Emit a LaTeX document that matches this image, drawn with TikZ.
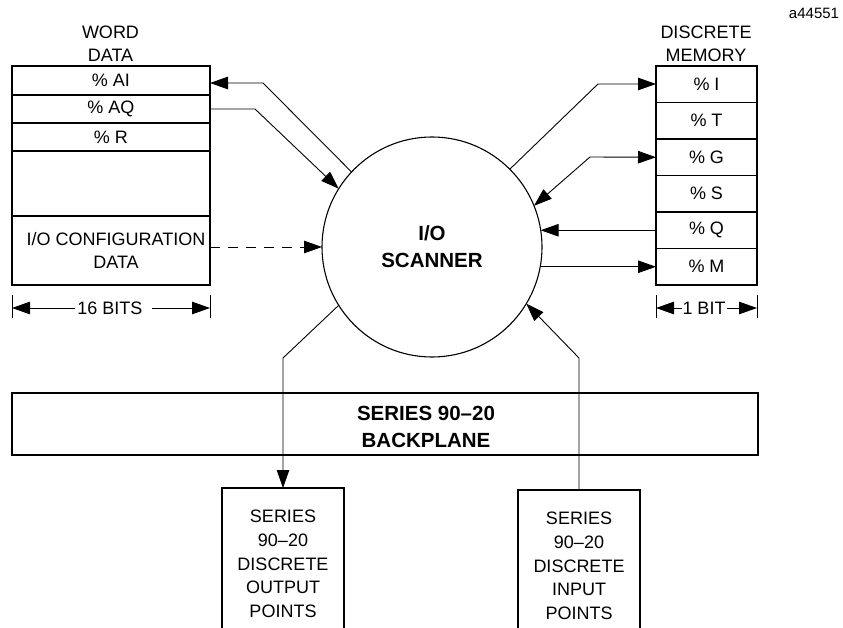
\documentclass[tikz,border=0pt]{standalone}
\usepackage{fontspec}
\setmainfont{Liberation Sans}
\usetikzlibrary{arrows.meta}
\begin{document}
\begin{tikzpicture}[x=1pt,y=-1pt,
  every node/.style={font=\fontsize{18}{23}\selectfont, inner sep=0pt, outer sep=0pt},
  box/.style={draw, line width=1.1pt, rectangle},
  wcell/.style={box, minimum width=198pt, anchor=north west},
  dcell/.style={box, minimum width=101pt, minimum height=36.5pt, anchor=north west},
  boldtxt/.style={font=\bfseries\fontsize{20.5}{27}\selectfont, align=center},
  tip/.style={Triangle[length=18pt,width=12.5pt]},
  conn/.style={line width=0.9pt, -{Triangle[length=18pt,width=12.5pt]}},
  conn2/.style={line width=0.9pt, {Triangle[length=18pt,width=12.5pt]}-{Triangle[length=18pt,width=12.5pt]}},
  tick/.style={line width=0.8pt},
  iobox/.style={anchor=north west, minimum width=122pt, minimum height=152pt, align=center, font=\fontsize{18}{23.7}\selectfont}
]
\useasboundingbox (0,0) rectangle (843,628);
\clip (0,0) rectangle (843,628);

% tag
\node[font=\fontsize{15}{18}\selectfont] (tag) at (814,13) {a44551};

% word data
\node[align=center] (wdlabel) at (110.5,43.5) {WORD\\DATA};
\node[wcell, minimum height=29pt] (ai) at (12,66) {\% AI};
\node[wcell, minimum height=28pt] (aq) at (12,95) {\% AQ};
\node[wcell, minimum height=28pt] (r) at (12,123) {\% R};
\node[wcell, minimum height=65pt] (blank) at (12,151) {};
\node[wcell, minimum height=69pt, align=center] (cfg) at (12,216) {\hspace*{10pt}I/O CONFIGURATION\\\hspace*{10pt}DATA};

% 16 bits
\coordinate (t1a) at (12,295); \coordinate (t1b) at (12,318);
\coordinate (t2a) at (210,295); \coordinate (t2b) at (210,318);
\draw[tick] (t1a) -- (t1b);
\draw[tick] (t2a) -- (t2b);
\node (bits) at (110,308) {16 BITS};
\coordinate (l16) at (12,308); \coordinate (l16s) at (75,308);
\coordinate (r16) at (210,308); \coordinate (r16s) at (152,308);
\draw[conn] (l16s) -- (l16);
\draw[conn] (r16s) -- (r16);

% discrete memory
\node[align=center] (dmlabel) at (706,43.5) {DISCRETE\\MEMORY};
\node[dcell] (i) at (656,66) {\% I};
\node[dcell] (t) at (656,102.5) {\% T};
\node[dcell] (g) at (656,139) {\% G};
\node[dcell] (s) at (656,175.5) {\% S};
\node[dcell] (q) at (656,212) {\% Q};
\node[dcell] (m) at (656,248.5) {\% M};

% 1 bit
\coordinate (t3a) at (656,295); \coordinate (t3b) at (656,318);
\coordinate (t4a) at (757,295); \coordinate (t4b) at (757,318);
\draw[tick] (t3a) -- (t3b);
\draw[tick] (t4a) -- (t4b);
\node (bit1) at (704,308) {1 BIT};
\coordinate (l1) at (656,308); \coordinate (l1s) at (682,308);
\coordinate (r1) at (757,308); \coordinate (r1s) at (727,308);
\draw[conn] (l1s) -- (l1);
\draw[conn] (r1s) -- (r1);

% scanner
\node[circle, draw, line width=1.1pt, minimum size=220pt, boldtxt] (scan) at (432,247) {I/O\\SCANNER};

% backplane
\node[box, anchor=north west, minimum width=746pt, minimum height=62pt] (bp) at (12,393) {};
\node[boldtxt] (bpt) at (426,426.5) {SERIES 90–20\\BACKPLANE};

% io boxes
\node[iobox] (out) at (222,488) {SERIES\\90–20\\DISCRETE\\OUTPUT\\POINTS};
\draw[line width=1.1pt] (out.south west) -- (out.north west) -- (out.north east) -- (out.south east);
\node[iobox] (in) at (518,490) {SERIES\\90–20\\DISCRETE\\INPUT\\POINTS};
\draw[line width=1.1pt] (in.south west) -- (in.north west) -- (in.north east) -- (in.south east);

% connectors left
\coordinate (b1) at (263,83);
\draw[conn] (scan.137) -- (b1) -- (ai.east |- b1);
\coordinate (b2) at (255,109);
\draw[conn] (aq.east |- b2) -- (b2) -- (scan.148);
\draw[conn, dash pattern=on 10pt off 8pt] (cfg.east |- scan.west) -- (scan.west);

% connectors right
\coordinate (b3) at (598,84);
\draw[conn] (scan.45) -- (b3) -- (i.west |- b3);
\coordinate (b4) at (590,157);
\draw[conn2] (scan.22) -- (b4) -- (g.west);
\draw[conn] (q.west) -- (scan.9 |- q.west);
\draw[conn] (scan.-10 |- m.west) -- (m.west);

% connectors bottom
\coordinate (b5) at (283,358);
\draw[conn] (scan.212) -- (b5) -- (out.north);
\coordinate (b6) at (579,358);
\draw[conn] (in.north) -- (b6) -- (scan.-31);
\end{tikzpicture}
\end{document}
